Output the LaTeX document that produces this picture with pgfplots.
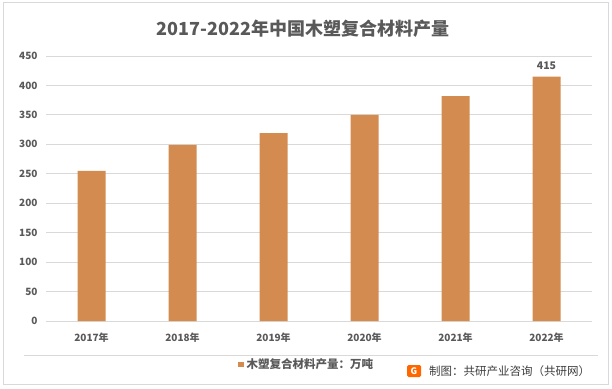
\documentclass[border=0pt]{standalone}
\usepackage{fontspec}
\setmainfont{Noto Sans CJK SC}
\usepackage{pgfplots}
\pgfplotsset{compat=1.18}
\definecolor{barc}{HTML}{D38B4F}
\definecolor{gridc}{HTML}{D9D9D9}
\definecolor{txt}{HTML}{595959}
\begin{document}
\begin{tikzpicture}[x=1pt,y=1pt]
\useasboundingbox (0,0) rectangle (612,388);
\fill[white] (0,0) rectangle (612,388);
\draw[gridc, line width=1pt] (3.5,4) rectangle (608.5,385);
\draw[gridc, line width=0.8pt] (24,33) -- (598,33);
\node[font=\fontsize{18}{20}\selectfont\bfseries, text=txt] at (303,359) {2017-2022年中国木塑复合材料产量};
\begin{axis}[
  at={(46pt,67pt)}, anchor=south west,
  scale only axis, width=546pt, height=265pt,
  xmin=-0.5, xmax=5.5, ymin=0, ymax=450,
  ytick={0,50,...,450},
  xtick={0,...,5},
  xticklabels={2017年,2018年,2019年,2020年,2021年,2022年},
  ymajorgrids, grid style={gridc, line width=0.8pt},
  axis line style={draw=none},
  axis x line*=bottom,
  major tick length=0pt,
  tick label style={font=\fontsize{10}{12}\selectfont\bfseries, text=txt},
  /pgf/number format/assume math mode=true,
  yticklabel style={xshift=-5pt},
  xticklabel style={yshift=-8pt},
  clip=false,
]
\addplot[ybar, bar width=28pt, fill=barc, draw=none] coordinates {(0,255) (1,299) (2,319) (3,350) (4,382) (5,415)};
\node[font=\fontsize{10.5}{12}\selectfont\bfseries, text=txt, anchor=south] at (axis cs:5,415) [yshift=3pt] {415};
\end{axis}
\fill[barc] (238,21) rectangle (244,26.5);
\node[anchor=west, font=\fontsize{11.5}{13}\selectfont\bfseries, text=txt, inner sep=0pt] at (246.5,23.5) {木塑复合材料产量：万吨};
\fill[orange!80!red, rounded corners=1.5pt] (407,11) rectangle (421,23);
\node[font=\fontsize{9}{10}\selectfont\bfseries, text=white, inner sep=0pt] at (414,17) {G};
\node[anchor=west, font=\fontsize{11.5}{14}\selectfont, text=txt!70!black, inner sep=0pt] at (429,17) {制图：共研产业咨询（共研网）};
\end{tikzpicture}
\end{document}
